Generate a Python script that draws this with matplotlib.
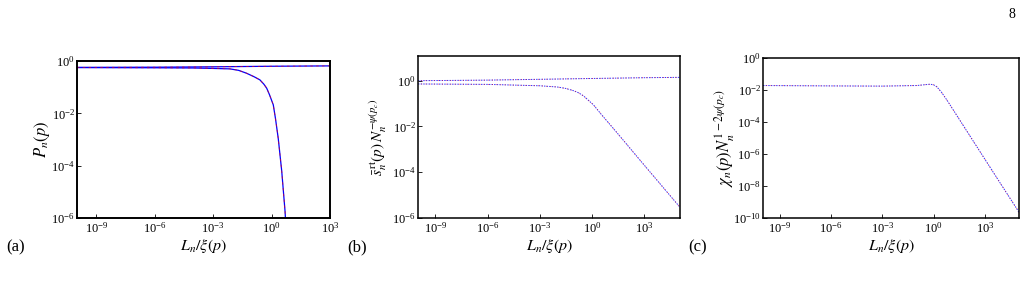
import matplotlib
matplotlib.use("Agg")
import matplotlib.pyplot as plt
from matplotlib.ticker import FixedLocator, LogFormatterMathtext, NullLocator

plt.rcParams['font.family'] = ['Liberation Serif', 'DejaVu Serif']
plt.rcParams['mathtext.fontset'] = 'stix'

# ---- data ----
# (a) P_n(p): flat branch and decaying branch
a_flat_x = [1e-10, 1e-6, 1e-3, 1e0, 1e3]
a_flat_y = [0.57, 0.58, 0.60, 0.63, 0.65]
a_fall_x = [1e-10, 1e-6, 1e-4, 1e-3, 7.2e-3, 0.02, 0.052, 0.126, 0.25, 0.4,
            0.56, 0.79, 1.22, 1.58, 2.19, 3.3, 4.9, 5.2]
a_fall_y = [0.56, 0.55, 0.54, 0.52, 0.50, 0.44, 0.34, 0.25, 0.19, 0.13,
            0.091, 0.05, 0.021, 6.3e-3, 1.1e-3, 6.3e-5, 1.8e-6, 8e-7]

# (b) mean rt-size scaled
b_up_x = [1e-10, 1e-6, 1e-3, 1e0, 1e3, 1e5]
b_up_y = [1.0, 1.06, 1.15, 1.25, 1.35, 1.4]
b_low_x = [1e-10, 1e-6, 1e-3, 1e-2, 0.03, 0.081, 0.16, 0.31, 0.6, 1.17,
           3.2, 32, 590, 1e5]
b_low_y = [0.72, 0.69, 0.60, 0.53, 0.46, 0.37, 0.30, 0.22, 0.14, 0.089,
           0.035, 4.5e-3, 3.2e-4, 3.2e-6]

# (c) chi_n scaled
c_x = [1e-10, 1e-6, 1e-3, 0.1, 0.4, 0.62, 1.0, 1.5, 2.8, 5.9, 55, 510,
       4800, 8.7e4, 1e5]
c_y = [0.019, 0.018, 0.0175, 0.019, 0.022, 0.023, 0.021, 0.0162, 7.5e-3,
       2.4e-3, 5.9e-5, 1.45e-6, 3.5e-8, 2.9e-10, 2.2e-10]

W, H = 1027, 284
fig = plt.figure(figsize=(W / 100, H / 100), dpi=100)


def make_ax(left, top, right, bottom, lw=1.1):
    ax = fig.add_axes([left / W, 1 - bottom / H, (right - left) / W, (bottom - top) / H])
    ax.set_xscale('log')
    ax.set_yscale('log')
    for s in ax.spines.values():
        s.set_linewidth(lw)
        s.set_color('black')
    ax.tick_params(direction='in', length=3, width=0.6, labelsize=9, pad=2)
    ax.tick_params(axis='y', pad=1.5)
    ax.xaxis.set_minor_locator(NullLocator())
    ax.yaxis.set_minor_locator(NullLocator())
    ax.xaxis.set_major_formatter(LogFormatterMathtext())
    ax.yaxis.set_major_formatter(LogFormatterMathtext())
    return ax


def draw(ax, x, y, solid=False):
    if solid:
        ax.plot(x, y, color='blue', lw=0.9)
        ax.plot(x, y, color='red', lw=0.6, ls=(0, (3, 4)), alpha=0.7)
    else:
        ax.plot(x, y, color='blue', lw=0.7, ls=(0, (1.5, 1.2)), alpha=0.8)
        ax.plot(x, y, color='red', lw=0.6, ls=(1, (1, 4)), alpha=0.7)


def labels(ax, ylab, ysize, ylx, xly):
    ax.set_xlabel(r'$L_n/\xi(p)$', fontsize=11.5)
    ax.xaxis.label.set_va('center')
    ax.xaxis.set_label_coords(0.5, xly)
    ax.set_ylabel(ylab, fontsize=ysize)
    ax.yaxis.label.set_va('center')
    ax.yaxis.set_label_coords(ylx, 0.5)


xt = [1e-9, 1e-6, 1e-3, 1e0, 1e3]

# (a)
ax = make_ax(77, 61, 330, 218, lw=1.4)
draw(ax, a_flat_x, a_flat_y, solid=True)
draw(ax, a_fall_x, a_fall_y, solid=True)
ax.set_xlim(1e-10, 1e3)
ax.set_ylim(1e-6, 1e0)
ax.xaxis.set_major_locator(FixedLocator(xt))
ax.yaxis.set_major_locator(FixedLocator([1e0, 1e-2, 1e-4, 1e-6]))
labels(ax, r'$P_n(p)$', 12, -0.138, -0.18)

# (b)
ax = make_ax(418, 56, 680, 218)
draw(ax, b_up_x, b_up_y)
draw(ax, b_low_x, b_low_y)
ax.set_xlim(1e-10, 1.1e5)
ax.set_ylim(1e-6, 12)
ax.xaxis.set_major_locator(FixedLocator(xt))
ax.yaxis.set_major_locator(FixedLocator([1e0, 1e-2, 1e-4, 1e-6]))
labels(ax, r'$\bar{s}_n^{\,\mathrm{rt}}(p)\,N_n^{-\psi(p_c)}$', 11, -0.15, -0.175)

# (c)
ax = make_ax(763, 58, 1019, 218)
draw(ax, c_x, c_y)
ax.set_xlim(1e-10, 1e5)
ax.set_ylim(1e-10, 1e0)
ax.xaxis.set_major_locator(FixedLocator(xt))
ax.yaxis.set_major_locator(FixedLocator([1e0, 1e-2, 1e-4, 1e-6, 1e-8, 1e-10]))
labels(ax, r'$\chi_n(p)N_n^{1-2\psi(p_c)}$', 12, -0.15, -0.177)

for lab, xpx in [('(a)', 16), ('(b)', 357), ('(c)', 698)]:
    fig.text(xpx / W, 1 - 247 / H, lab, fontsize=12, ha='center', va='center')
fig.text(1012 / W, 1 - 14 / H, '8', fontsize=10, ha='center', va='center')

fig.savefig('out.png', dpi=100)
